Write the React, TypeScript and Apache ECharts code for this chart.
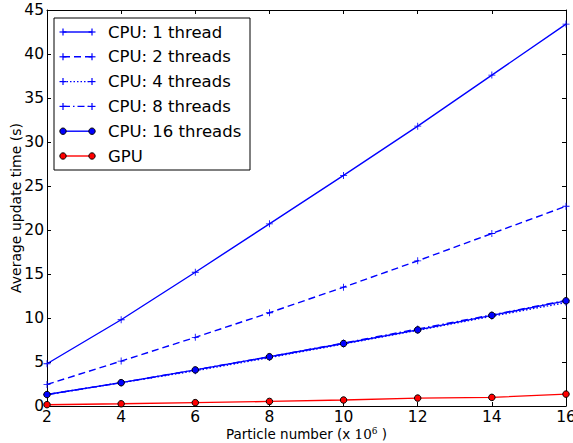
import React, { useEffect, useRef } from "react";
import * as echarts from "echarts";

const particles = [2, 4, 6, 8, 10, 12, 14, 16];
const cpu1 = [4.8, 9.8, 15.2, 20.7, 26.2, 31.8, 37.6, 43.4];
const cpu2 = [2.45, 5.1, 7.8, 10.6, 13.5, 16.5, 19.6, 22.7];
const cpu4 = [1.3, 2.65, 4.0, 5.5, 7.05, 8.6, 10.2, 11.75];
const cpu8 = [1.3, 2.65, 4.1, 5.6, 7.15, 8.75, 10.35, 12.0];
const cpu16 = [1.3, 2.65, 4.1, 5.6, 7.1, 8.65, 10.3, 11.95];
const gpu = [0.15, 0.25, 0.38, 0.52, 0.68, 0.9, 0.98, 1.35];
const seriesNames = [
  "CPU: 1 thread",
  "CPU: 2 threads",
  "CPU: 4 threads",
  "CPU: 8 threads",
  "CPU: 16 threads",
  "GPU",
];
const xTicks = { min: 2, max: 16, interval: 2 };
const yTicks = { min: 0, max: 45, interval: 5 };

const BLUE = "#0000ff";
const RED = "#ff0000";
const FONT = "DejaVu Sans";
const PLUS = "path://M4.4,0h1.2v10h-1.2zM0,4.4h10v1.2h-10z";

type Style = {
  dash: number[] | null;
  marker: "plus" | "circle";
  color: string;
};
const styles: Style[] = [
  { dash: null, marker: "plus", color: BLUE },
  { dash: [7, 4], marker: "plus", color: BLUE },
  { dash: [1.5, 2], marker: "plus", color: BLUE },
  { dash: [7, 3, 1.5, 3], marker: "plus", color: BLUE },
  { dash: null, marker: "circle", color: BLUE },
  { dash: null, marker: "circle", color: RED },
];
const values = [cpu1, cpu2, cpu4, cpu8, cpu16, gpu];

export default function App() {
  const ref = useRef<HTMLDivElement>(null);
  useEffect(() => {
    if (!ref.current) return;
    const chart = echarts.init(ref.current, null, { renderer: "svg" });

    const series = values.map((vals, i) => {
      const st = styles[i];
      return {
        name: seriesNames[i],
        type: "line",
        data: particles.map((p, k) => [p, vals[k]]),
        symbol: st.marker === "plus" ? PLUS : "circle",
        symbolSize: st.marker === "plus" ? 7 : 6.5,
        showAllSymbol: true,
        lineStyle: {
          color: st.color,
          width: 1.4,
          type: st.dash ? st.dash : "solid",
        },
        itemStyle:
          st.marker === "plus"
            ? { color: st.color }
            : { color: st.color, borderColor: "#000", borderWidth: 1 },
        emphasis: { disabled: true },
        z: 2 + i,
      };
    });

    const legendEls: any[] = [];
    const lx0 = 54, ly0 = 18, lw = 196, lh = 152;
    legendEls.push({
      type: "rect",
      shape: { x: lx0, y: ly0, width: lw, height: lh },
      style: { fill: "#fff", stroke: "#000", lineWidth: 1 },
      z: 100,
    });
    seriesNames.forEach((nm, i) => {
      const st = styles[i];
      const cy = 32 + i * 24.8;
      const x1 = 63, x2 = 92;
      legendEls.push({
        type: "line",
        shape: { x1, y1: cy, x2, y2: cy },
        style: {
          stroke: st.color,
          lineWidth: 1.4,
          lineDash: st.dash ? st.dash : null,
        },
        z: 101,
      });
      [x1, x2].forEach((mx) => {
        if (st.marker === "plus") {
          legendEls.push({
            type: "line",
            shape: { x1: mx - 3.5, y1: cy, x2: mx + 3.5, y2: cy },
            style: { stroke: st.color, lineWidth: 1.2 },
            z: 102,
          });
          legendEls.push({
            type: "line",
            shape: { x1: mx, y1: cy - 3.5, x2: mx, y2: cy + 3.5 },
            style: { stroke: st.color, lineWidth: 1.2 },
            z: 102,
          });
        } else {
          legendEls.push({
            type: "circle",
            shape: { cx: mx, cy, r: 3.2 },
            style: { fill: st.color, stroke: "#000", lineWidth: 1 },
            z: 102,
          });
        }
      });
      legendEls.push({
        type: "text",
        x: 108,
        y: cy,
        style: {
          text: nm,
          font: `16.5px "${FONT}"`,
          fill: "#000",
          verticalAlign: "middle",
        },
        z: 102,
      });
    });

    const tickCommon = {
      axisTick: { show: true, inside: true, length: 4, lineStyle: { color: "#000" } },
      axisLine: { show: true, onZero: false, lineStyle: { color: "#000", width: 1 } },
      splitLine: { show: false },
    };

    chart.setOption({
      animation: false,
      backgroundColor: "#fff",
      grid: {
        left: 47,
        right: 7,
        top: 10,
        bottom: 37,
        containLabel: false,
        outerBoundsMode: "none",
      },
      xAxis: [
        {
          type: "value",
          ...xTicks,
          position: "bottom",
          ...tickCommon,
          axisLabel: { color: "#000", fontFamily: FONT, fontSize: 15.5, margin: 3 },
          name: "Particle number (x {m|10}{s|6} )",
          nameLocation: "middle",
          nameGap: 20,
          nameMoveOverlap: false,
          nameTextStyle: {
            color: "#000",
            fontFamily: FONT,
            fontSize: 13.5,
            rich: {
              m: { fontFamily: "DejaVu Serif", fontSize: 13.5, color: "#000" },
              s: {
                fontFamily: "DejaVu Serif",
                fontSize: 9,
                color: "#000",
                padding: [0, 0, 7, 0],
              },
            },
          },
        },
        {
          type: "value",
          ...xTicks,
          position: "top",
          ...tickCommon,
          axisLabel: { show: false },
        },
      ],
      yAxis: [
        {
          type: "value",
          ...yTicks,
          position: "left",
          ...tickCommon,
          axisLabel: { color: "#000", fontFamily: FONT, fontSize: 15.5, margin: 3 },
          name: "Average update time (s)",
          nameLocation: "middle",
          nameGap: 24,
          nameMoveOverlap: false,
          nameTextStyle: { color: "#000", fontFamily: FONT, fontSize: 14 },
        },
        {
          type: "value",
          ...yTicks,
          position: "right",
          ...tickCommon,
          axisLabel: { show: false },
        },
      ],
      series,
      graphic: legendEls,
    });
    return () => chart.dispose();
  }, []);
  return (
    <div
      ref={ref}
      style={{ position: "absolute", left: 0, top: 0, width: 573, height: 443 }}
    />
  );
}
